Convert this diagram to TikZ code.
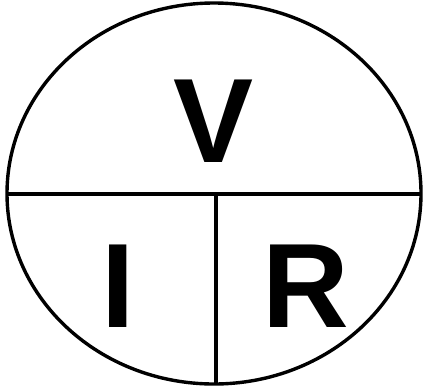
\documentclass[tikz,border=0pt]{standalone}
\usepackage{fontspec}
\setmainfont{Liberation Sans}
\usepackage{xcolor}
\usepackage{tikz}
\usetikzlibrary{positioning,calc}
\definecolor{cInk}{HTML}{000000}
\tikzset{
  rim/.style={draw=cInk,line width=3.4pt},
  sep/.style={draw=cInk,line width=3.2pt},
  letter/.style={font=\fontsize{120}{144}\selectfont\bfseries,text=cInk,inner sep=0pt,anchor=base},
}

\begin{document}
\begin{tikzpicture}[x=1pt,y=-1pt]
    \useasboundingbox (0,0) rectangle (427,391);
    \coordinate (o) at (214,193.5);
    \draw[rim] (o) ellipse [x radius=207,y radius=190.5];
    \coordinate (wl) at (7,194);
    \coordinate (wr) at (421,194);
    \coordinate (mt) at (216,194);
    \coordinate (mb) at (216,384.3);
    \draw[sep] (wl) -- (wr);
    \draw[sep] (mt) -- (mb);
    \node[letter] (volt) at (214,162) {V};
    \node[letter] (amp) at (118,327) {I};
    \node[letter] (ohm) at (306,327) {R};
  \end{tikzpicture}
\end{document}
